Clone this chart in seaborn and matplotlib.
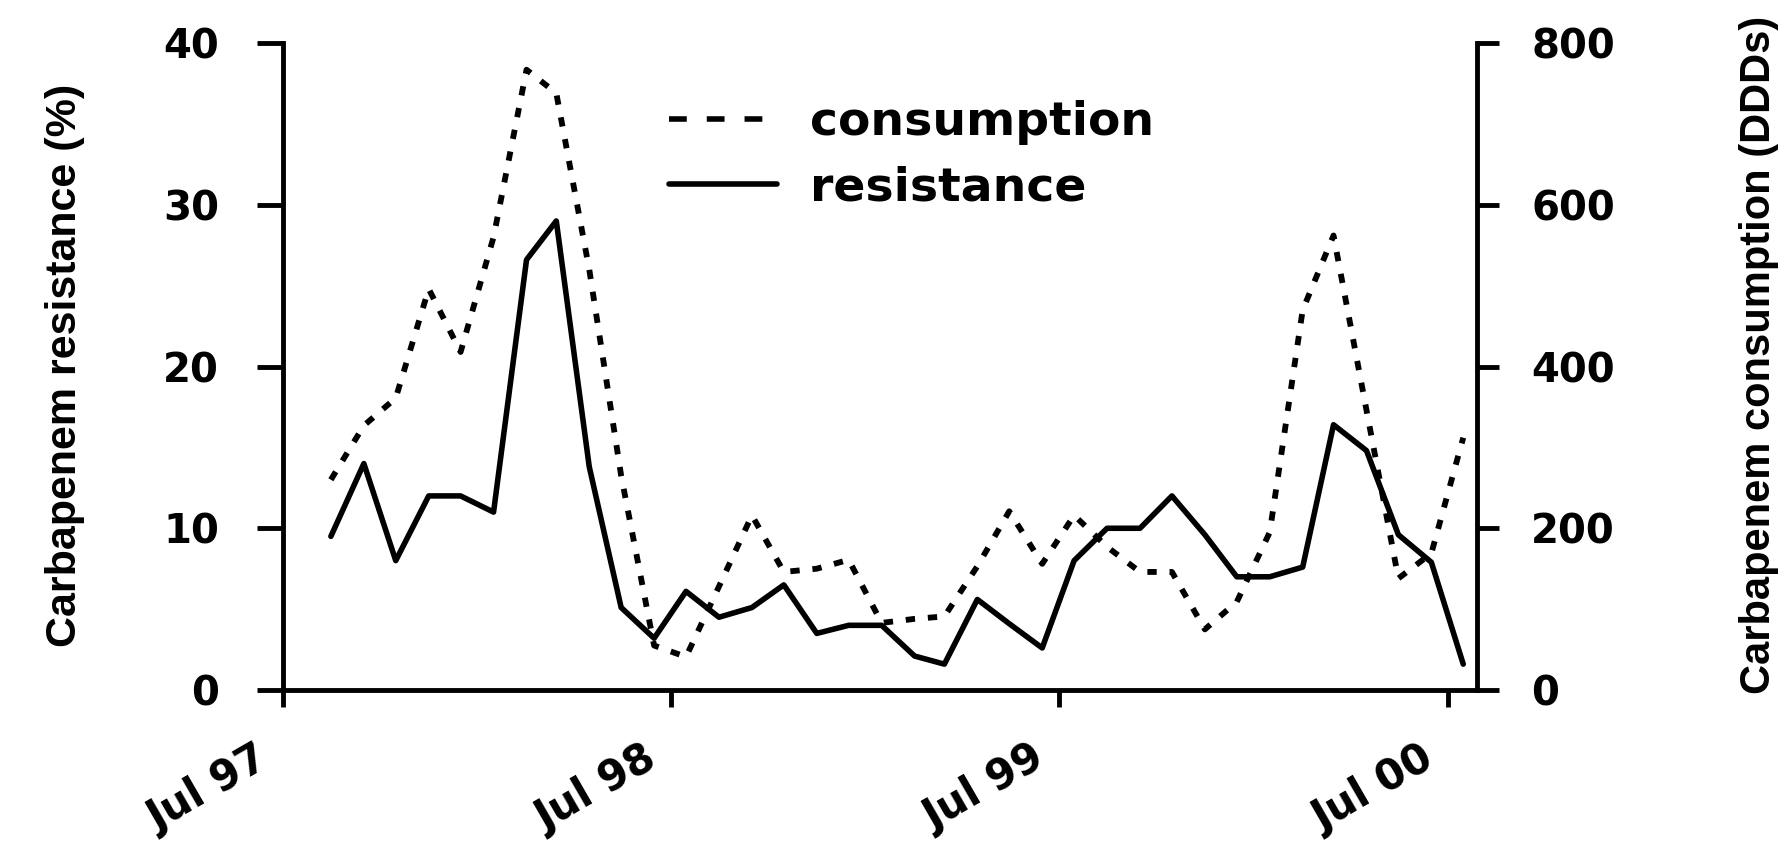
import numpy as np
import pandas as pd
import matplotlib
matplotlib.use("Agg")
import matplotlib.pyplot as plt
from matplotlib.lines import Line2D
from matplotlib.transforms import ScaledTranslation
import seaborn as sns

# monthly values, Aug 97 - Jul 00 (plotted mid-month)
months = pd.date_range("1997-08-01", "2000-07-01", freq="MS") + pd.Timedelta(days=14)
resistance = [9.5, 14.0, 8.0, 12.0, 12.0, 11.0, 26.6, 29.0, 13.8, 5.1, 3.2, 6.1,
              4.5, 5.1, 6.5, 3.5, 4.0, 4.0, 2.1, 1.6, 5.6, 4.1, 2.6, 8.0,
              10.0, 10.0, 12.0, 9.6, 7.0, 7.0, 7.6, 16.4, 14.8, 9.6, 7.9, 1.6]
consumption = [260, 327, 361, 496, 418, 560, 767, 738, 520, 265, 55, 41,
               128, 216, 146, 150, 161, 83, 88, 91, 153, 221, 156, 216,
               177, 146, 146, 75, 109, 195, 470, 562, 346, 138, 169, 312]
tick_dates = pd.to_datetime(["1997-07-01", "1998-07-01", "1999-07-01", "2000-07-01"])
tick_labels = ["Jul 97", "Jul 98", "Jul 99", "Jul 00"]
left_ticks = [0, 10, 20, 30, 40]
right_ticks = [0, 200, 400, 600, 800]

sns.set_style("ticks")
plt.rcParams["font.family"] = ["DejaVu Sans"]
plt.rcParams["font.weight"] = "bold"
for key in ["text.color", "axes.labelcolor", "xtick.color", "ytick.color", "axes.edgecolor"]:
    plt.rcParams[key] = "black"

fig = plt.figure(figsize=(17.88, 8.42), dpi=100)
ax = fig.add_axes([0.1583, 0.1805, 0.6678, 0.7684])
ax2 = ax.twinx()

dash = (0, (1.6, 2.2))
sns.lineplot(x=months, y=resistance, ax=ax, color="black", lw=4)
sns.lineplot(x=months, y=consumption, ax=ax2, color="black", lw=4.2)
ax2.lines[0].set_linestyle(dash)

ax.set_xlim(pd.Timestamp("1997-07-01"), pd.Timestamp("2000-07-28"))
ax.set_ylim(0, 40)
ax2.set_ylim(0, 800)
ax.set_yticks(left_ticks)
ax2.set_yticks(right_ticks)
ax.set_xlabel("")
ax.set_ylabel("")
ax2.set_ylabel("")

for a in (ax, ax2):
    a.spines["top"].set_visible(False)
    for s in a.spines.values():
        s.set_linewidth(3.5)
ax.spines["right"].set_visible(False)
ax2.spines["left"].set_visible(False)
ax2.spines["bottom"].set_visible(False)

ax.tick_params(axis="y", length=19, width=3.5, pad=27, labelsize=29)
ax.tick_params(axis="x", length=12, width=3.5, pad=22)
ax2.tick_params(axis="y", length=16, width=3.5, pad=23, labelsize=29)
for t in ax.get_yticklabels() + ax2.get_yticklabels():
    t.set_fontweight("bold")

# x labels set after tick_params so the offset is kept
ax.set_xticks(tick_dates)
ax.set_xticklabels(tick_labels, rotation=30, ha="right", va="top",
                   rotation_mode="anchor", fontsize=30, fontweight="bold")
shift = ScaledTranslation(-0.29, 0, fig.dpi_scale_trans)
for t in ax.get_xticklabels():
    t.set_transform(t.get_transform() + shift)

handles = [Line2D([], [], color="black", lw=4, linestyle=(0, (3.2, 3.6))),
           Line2D([], [], color="black", lw=4)]
ax.legend(handles, ["consumption", "resistance"], loc="upper left",
          bbox_to_anchor=(0.288, 0.977), frameon=False,
          handlelength=2.27, handletextpad=0.7, labelspacing=0.42,
          prop={"weight": "bold", "size": 34})

fig.text(0.0364, 0.566, "Carbapenem resistance (%)", rotation=90, ha="center",
         va="center", fontsize=31, fontweight="bold", family=["Liberation Sans", "DejaVu Sans"])
fig.text(0.984, 0.579, "Carbapenem consumption (DDDs)", rotation=90, ha="center",
         va="center", fontsize=30, fontweight="bold", family=["Liberation Sans", "DejaVu Sans"])

fig.savefig("out.png", dpi=100)
